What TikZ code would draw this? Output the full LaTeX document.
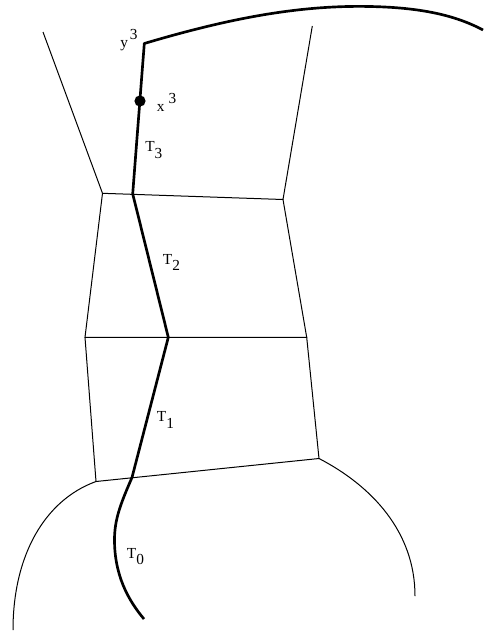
\documentclass[tikz,border=0pt]{standalone}
\usepackage{fontspec}
\setmainfont{Liberation Serif}

\begin{document}
\begin{tikzpicture}[x=0.75pt,y=0.75pt,yscale=-1,xscale=1,
  wall/.style={line width=0.75pt},
  geo/.style={line width=2pt, line join=round},
  lbl/.style={anchor=base west, inner sep=0pt, font=\fontsize{11.5}{13}\selectfont}]
\useasboundingbox (0,0) rectangle (483,632); %set diagram to 483 x 632

%Vertices of the tubes
\coordinate (lt0) at (43,32);
\coordinate (lt1) at (102.5,193.3);
\coordinate (rt1) at (283,199.5);
\coordinate (rt0) at (312.3,26);
\coordinate (lt2) at (85,337.3);
\coordinate (rt2) at (306.7,337.3);
\coordinate (lt3) at (96,481.5);
\coordinate (rt3) at (319,458.5);
\coordinate (lend) at (13,630);
\coordinate (rend) at (415,596);

%Points of the thick path
\coordinate (g0) at (144,619);
\coordinate (g1) at (132,477.5);
\coordinate (g2) at (168.3,337.3);
\coordinate (g3) at (132.7,193.8);
\coordinate (y3) at (144.3,43.5);
\coordinate (gend) at (483,30);

%Straight Lines
\draw [wall] (lt0) -- (lt1) -- (rt1) -- (rt0) ;
\draw [wall] (lt1) -- (lt2) -- (rt2) -- (rt1) ;
\draw [wall] (lt2) -- (lt3) -- (rt3) -- (rt2) ;
%Shape: Arc
\draw [wall] (lt3) .. controls (45,500) and (13,555) .. (lend) ;
%Shape: Arc
\draw [wall] (rt3) .. controls (372,486) and (415,532) .. (rend) ;

%Curve Lines
\draw [geo] (g0) .. controls (128,600) and (114.5,575) .. (114.5,540) .. controls (114.5,520) and (120,505) .. (g1) -- (g2) -- (g3) -- (y3) .. controls (230,18) and (300,5) .. (370,6.5) .. controls (420,7.5) and (455,15) .. (gend) ;
%Shape: Circle
\fill (140,101) circle [radius=5.6] ;

% Text Node
\node [lbl] (laby) at (120,47.7) {y\kern1.5pt\raisebox{5.8pt}{3}};
% Text Node
\node [lbl] (labx) at (156.7,111.7) {x\kern3pt\raisebox{5.8pt}{3}};
% Text Node
\node [lbl] (labt3) at (145,151.7) {T\raisebox{-5.2pt}{3}};
% Text Node
\node [lbl] (labt2) at (162.7,264) {T\raisebox{-5.2pt}{2}};
% Text Node
\node [lbl] (labt1) at (156.7,421.7) {T\raisebox{-5.2pt}{1}};
% Text Node
\node [lbl] (labt0) at (126.7,558) {T\raisebox{-5.2pt}{0}};

\end{tikzpicture}
\end{document}
